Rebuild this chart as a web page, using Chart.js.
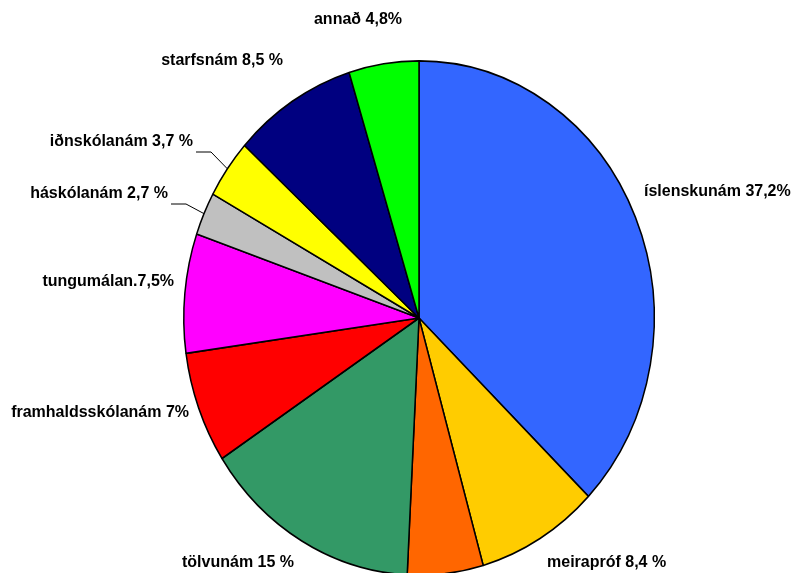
<!DOCTYPE html>
<html>
<head>
<meta charset="utf-8">
<script src="https://cdn.jsdelivr.net/npm/chart.js@4/dist/chart.umd.min.js"></script>
<style>
html,body{margin:0;padding:0;background:#fff;}
canvas{display:block;}
</style>
</head>
<body>
<canvas id="c" width="794" height="573"></canvas>
<script>
// Data (clockwise from top)
const categories = ["íslenskunám","meirapróf","(ómerkt)","tölvunám","framhaldsskólanám","tungumálan.","háskólanám","iðnskólanám","starfsnám","annað"];
const values = [37.2, 8.4, 5.2, 15, 7, 7.5, 2.7, 3.7, 8.5, 4.8];
const labelTexts = ["íslenskunám 37,2%","meirapróf 8,4 %","","tölvunám 15 %","framhaldsskólanám 7%","tungumálan.7,5%","háskólanám 2,7 %","iðnskólanám 3,7 %","starfsnám 8,5 %","annað 4,8%"];
const colors = ["#3366FF","#FFCC00","#FF6600","#339966","#FF0000","#FF00FF","#C0C0C0","#FFFF00","#000080","#00FF00"];

// Layout (text anchors, separate from data)
const labelAnchors = [
  {x:644, y:192, align:"left"},
  {x:547, y:563, align:"left"},
  null,
  {x:182, y:563, align:"left"},
  {x:189, y:413, align:"right"},
  {x:174, y:282, align:"right"},
  {x:168, y:194, align:"right", leader:true},
  {x:193, y:142, align:"right", leader:true},
  {x:283, y:61, align:"right"},
  {x:402, y:20, align:"right"}
];
const yStretch = 258/236;

const ellipsePlugin = {
  id: "ellipse",
  beforeDatasetsDraw(chart) {
    const arc = chart.getDatasetMeta(0).data[0];
    const ctx = chart.ctx;
    ctx.save();
    ctx.translate(arc.x, arc.y);
    ctx.scale(1, yStretch);
    ctx.translate(-arc.x, -arc.y);
  },
  afterDatasetsDraw(chart) {
    chart.ctx.restore();
    const ctx = chart.ctx;
    const meta = chart.getDatasetMeta(0);
    ctx.save();
    ctx.font = "bold 16px 'Liberation Sans', Arial, sans-serif";
    ctx.fillStyle = "#000";
    ctx.textBaseline = "middle";
    meta.data.forEach((arc, i) => {
      const a = labelAnchors[i];
      if (!a || !labelTexts[i]) return;
      ctx.textAlign = a.align;
      ctx.fillText(labelTexts[i], a.x, a.y);
      if (a.leader) {
        const mid = (arc.startAngle + arc.endAngle) / 2;
        const ex = arc.x + Math.cos(mid) * arc.outerRadius;
        const ey = arc.y + Math.sin(mid) * arc.outerRadius * yStretch;
        const sx = a.x + 3, sy = a.y + 10;
        ctx.beginPath();
        ctx.strokeStyle = "#000";
        ctx.lineWidth = 1;
        ctx.moveTo(sx, sy);
        ctx.lineTo(sx + 15, sy);
        ctx.lineTo(ex, ey);
        ctx.stroke();
      }
    });
    ctx.restore();
  }
};

new Chart(document.getElementById("c"), {
  type: "pie",
  data: {
    labels: categories,
    datasets: [{
      data: values,
      backgroundColor: colors,
      borderColor: "#000",
      borderWidth: 1.5,
      clip: false
    }]
  },
  options: {
    responsive: false,
    animation: false,
    events: [],
    layout: { padding: { left: 183, right: 139, top: 82, bottom: 19 } },
    plugins: { legend: { display: false }, tooltip: { enabled: false } }
  },
  plugins: [ellipsePlugin]
});
</script>
</body>
</html>
